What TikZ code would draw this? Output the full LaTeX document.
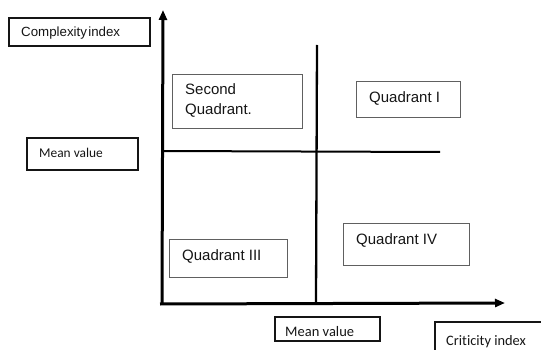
\documentclass[tikz,border=0pt]{standalone}
\usepackage{fontspec}
\setmainfont{Liberation Sans}
\newfontfamily\calfont[Ligatures=NoCommon]{Carlito}
\usetikzlibrary{arrows.meta}
\definecolor{ink}{HTML}{151515}
\definecolor{boxgray}{HTML}{606060}
\tikzset{
  qbox/.style={draw=boxgray, line width=0.9pt},
  lbox/.style={draw=ink, line width=1.4pt},
  qtext/.style={anchor=base west, inner sep=0pt, text=ink, font=\fontsize{15}{20}\selectfont},
  ltext/.style={anchor=base west, inner sep=0pt, text=ink},
  axis/.style={draw=black, line width=3pt, -{Triangle[width=8pt,length=10pt]}},
  midline/.style={draw=black, line width=2.3pt},
}
\begin{document}
\begin{tikzpicture}[x=1pt,y=-1pt]
\useasboundingbox (0,0) rectangle (541,350);
% axes
\coordinate (yb) at (162,304);
\coordinate (yt) at (163,10);
\coordinate (xb) at (160,304);
\coordinate (xt) at (505,303);
\draw[axis] (yb) -- (yt);
\draw[axis] (xb) -- (xt);
% middle lines
\coordinate (vt) at (317,45);
\coordinate (vb) at (316,303);
\coordinate (hl) at (162,151);
\coordinate (hr) at (440,152);
\draw[midline] (vt) -- (vb);
\draw[midline, line width=2pt] (hl) -- (hr);
% label boxes
\draw[lbox, line width=1.2pt] (9,18) rectangle (150,46);
\node[ltext, font=\fontsize{13.3}{16}\selectfont] (cx) at (21,37) {Complexity\hspace{0.1em}index};
\draw[lbox] (27,138) rectangle (138,170);
\node[ltext, font=\calfont\fontsize{13.4}{16}\selectfont] (mv1) at (39,158) {Mean value};
\draw[lbox] (275,317) rectangle (380,341);
\node[ltext, font=\calfont\fontsize{14.5}{17}\selectfont] (mv2) at (285,336) {Mean value};
\draw[lbox, line width=1.2pt] (435,322) rectangle (545,355);
\node[ltext, font=\calfont\fontsize{14.4}{17}\selectfont] (ci) at (446,345) {Criticity index};
% quadrant boxes
\draw[qbox] (172,74) rectangle (302,128);
\node[qtext] (q2a) at (185,95) {Second};
\node[qtext] (q2b) at (185,115) {Quadrant.};
\draw[qbox] (356,81) rectangle (460,117);
\node[qtext] (q1) at (369,103) {Quadrant I};
\draw[qbox] (169,239) rectangle (287,277);
\node[qtext] (q3) at (182,260) {Quadrant III};
\draw[qbox] (343,223) rectangle (469,265);
\node[qtext] (q4) at (356,244) {Quadrant IV};
\end{tikzpicture}
\end{document}
